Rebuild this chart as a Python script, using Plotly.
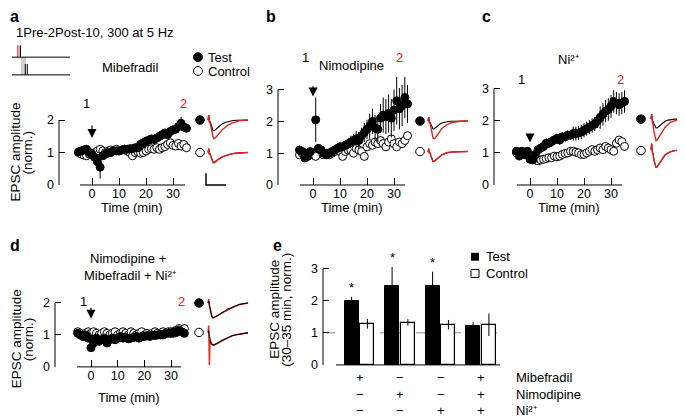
import plotly.graph_objects as go

# ---------------- data ----------------
T_MIN = list(range(-5, 36))

A_TEST = [1.02, 1.05, 1.08, 1.10, 1.00, 0.95, 0.85, 0.72, 0.55, 0.90,
          0.95, 1.00, 1.00, 1.05, 1.05, 1.05, 1.08, 1.10, 1.10, 1.12,
          1.12, 1.15, 1.15, 1.25, 1.30, 1.35, 1.38, 1.42, 1.40, 1.45,
          1.50, 1.55, 1.60, 1.55, 1.65, 1.70, 1.72, 1.80, 1.90, 1.78, 1.75]
A_TEST_ERR = [0.06, 0.06, 0.06, 0.06, 0.06, 0.08, 0.10, 0.15, 0.35, 0.10,
              0.07, 0.07, 0.07, 0.07, 0.07, 0.07, 0.07, 0.07, 0.07, 0.07,
              0.07, 0.07, 0.07, 0.07, 0.07, 0.08, 0.08, 0.08, 0.08, 0.08,
              0.08, 0.08, 0.10, 0.10, 0.10, 0.10, 0.12, 0.12, 0.20, 0.15, 0.10]
A_CTRL = [1.00, 0.95, 0.92, 0.90, 0.95, 0.92, 1.00, 1.05, 1.10, 1.05,
          1.00, 1.05, 1.08, 1.05, 1.10, 1.05, 1.08, 1.10, 1.05, 1.00,
          0.90, 1.00, 1.02, 0.98, 1.00, 1.05, 1.10, 1.12, 1.10, 1.15,
          1.10, 1.15, 1.18, 1.25, 1.30, 1.22, 1.20, 1.28, 1.20, 1.25, 1.15]
A_CTRL_ERR = [0.06] * 20 + [0.10] + [0.06] * 20

B_TEST = [1.10, 1.05, 0.85, 0.90, 1.05, None, 2.05, 1.15, 1.10, 1.00,
          0.95, 1.00, 1.05, 1.10, 1.15, 1.20, 1.20, 1.25, 1.30, 1.35,
          1.40, 1.45, 1.40, 1.55, 1.65, 1.75, 1.85, 2.00, 1.80, 1.75,
          2.10, 2.20, 2.15, 2.25, 2.10, 2.35, 2.65, 2.40, 2.50, 2.75, 2.55]
B_TEST_ERR = [0.10, 0.10, 0.10, 0.10, 0.10, 0.00, 0.70, 0.12, 0.12, 0.12,
              0.12, 0.12, 0.12, 0.12, 0.15, 0.15, 0.15, 0.15, 0.15, 0.20,
              0.20, 0.25, 0.25, 0.25, 0.30, 0.30, 0.40, 0.40, 0.40, 0.40,
              0.45, 0.55, 0.55, 0.60, 0.60, 0.65, 0.75, 0.65, 0.65, 0.65, 0.60]
B_CTRL = [0.95, 1.00, 0.90, 1.00, 0.95, None, 0.90, 1.15, 1.10, 0.95,
          1.00, 0.95, 1.00, 1.05, 1.10, 1.05, 0.90, 1.05, 1.10, 1.10,
          1.00, 1.15, 1.10, 1.05, 0.90, 1.20, 1.30, 1.25, 1.35, 1.30,
          1.40, 1.30, 1.20, 1.35, 1.45, 1.30, 1.20, 1.35, 1.30, 1.40, 1.55]
B_CTRL_ERR = [0.08] * 25 + [0.12] * 16

C_TEST = [1.05, 0.90, 1.05, 0.95, 1.05, 0.80, 0.78, 0.95, 1.10, 1.15,
          1.20, 1.30, 1.30, 1.35, 1.40, 1.45, 1.40, 1.50, 1.50, 1.55,
          1.55, 1.60, 1.60, 1.62, 1.65, 1.70, 1.75, 1.80, 1.85, 1.90,
          2.00, 2.10, 2.20, 2.30, 2.35, 2.45, 2.60, 2.55, 2.50, 2.55, 2.60]
C_TEST_ERR = [0.08] * 11 + [0.15] * 10 + [0.22] * 10 + [0.35] * 10
C_CTRL = [1.00, 0.95, 1.00, 0.95, 1.00, None, 0.80, 0.78, 0.75, 0.78,
          0.80, 0.82, 0.85, 0.85, 0.90, 0.88, 0.90, 0.95, 0.98, 1.00,
          1.05, 1.05, 1.02, 1.00, 0.95, 0.95, 1.00, 1.05, 1.10, 1.05,
          1.10, 1.15, 1.10, 1.20, 1.15, 1.10, 1.05, 1.30, 1.40, 1.35, 1.20]
C_CTRL_ERR = [0.07] * 25 + [0.12] * 16

D_TEST = [1.05, 1.00, 0.95, 1.00, 0.90, 0.60, 0.75, 0.90, 0.80, 0.85,
          0.90, 0.75, 0.85, 0.90, 0.85, 0.90, 0.95, 0.90, 0.92, 0.88,
          0.90, 0.92, 0.95, 0.90, 0.95, 0.95, 0.98, 0.95, 1.00, 0.98,
          1.00, 1.02, 1.00, 1.05, 1.05, 1.05, 1.10, 1.08, 1.15, 1.10, 1.05]
D_TEST_ERR = [0.06] * 30 + [0.10] * 11
D_CTRL = [1.10, 1.05, 1.00, 1.05, 1.10, 1.05, 1.10, 1.05, 1.00, 1.05,
          1.10, 1.05, 1.00, 1.05, 1.10, 1.00, 1.05, 1.10, 1.05, 1.00,
          1.10, 1.05, 1.00, 1.05, 1.10, 1.00, 1.05, 1.00, 1.05, 1.10,
          1.05, 1.00, 1.10, 1.05, 1.10, 1.10, 1.05, 1.15, 1.20, 1.15, 1.20]
D_CTRL_ERR = [0.06] * 30 + [0.12] * 11

# example EPSC traces (time in ms, current in arbitrary units)
TR_T = [0, 0.7, 1.4, 2, 3, 4, 5, 6, 7, 8, 10, 12, 14, 17, 20, 24, 28, 32, 36, 40]
TR_A_TOP_1 = [0, 0.5, -0.2, -0.1, -0.4, -0.8, -1.05, -1.1, -1.05, -0.95, -0.75, -0.55, -0.4, -0.25, -0.15, -0.06, -0.02, 0, 0, 0]
TR_A_TOP_2 = [0, 0.5, -0.2, -0.2, -0.7, -1.3, -1.7, -1.9, -1.85, -1.75, -1.5, -1.25, -1.0, -0.75, -0.5, -0.3, -0.15, -0.05, 0, 0]
TR_A_BOT_1 = [0, 0.4, -0.2, -0.1, -0.4, -0.75, -0.95, -1.0, -0.95, -0.85, -0.7, -0.55, -0.45, -0.32, -0.22, -0.12, -0.06, -0.02, 0, 0]
TR_A_BOT_2 = [0, 0.4, -0.2, -0.1, -0.45, -0.8, -1.0, -1.05, -1.0, -0.9, -0.72, -0.58, -0.46, -0.33, -0.22, -0.12, -0.06, -0.02, 0, 0]
TR_B_TOP_1 = [0, 0.4, -0.2, -0.1, -0.35, -0.65, -0.8, -0.8, -0.72, -0.6, -0.42, -0.3, -0.2, -0.1, -0.05, -0.02, 0, 0, 0, 0]
TR_B_TOP_2 = [0, 0.4, -0.2, -0.2, -0.7, -1.3, -1.7, -1.8, -1.75, -1.6, -1.3, -1.0, -0.75, -0.5, -0.3, -0.15, -0.07, -0.02, 0, 0]
TR_B_BOT_1 = [0, 0.3, -0.2, -0.1, -0.45, -0.85, -1.0, -1.0, -0.92, -0.8, -0.6, -0.45, -0.32, -0.2, -0.1, -0.05, -0.02, 0, 0, 0]
TR_B_BOT_2 = [0, 0.3, -0.2, -0.1, -0.45, -0.85, -1.0, -1.02, -0.94, -0.82, -0.62, -0.46, -0.33, -0.2, -0.1, -0.05, -0.02, 0, 0, 0]
TR_C_TOP_1 = [0, 0.5, -0.3, -0.2, -0.5, -0.8, -0.9, -0.9, -0.82, -0.72, -0.5, -0.35, -0.22, -0.1, -0.04, 0, 0, 0, 0, 0]
TR_C_TOP_2 = [0, 0.5, -0.3, -0.5, -1.3, -1.9, -2.2, -2.15, -2.0, -1.85, -1.5, -1.15, -0.85, -0.55, -0.3, -0.15, -0.06, 0, 0, 0]
TR_C_BOT_1 = [0, 0.6, -0.3, -0.4, -1.1, -1.6, -1.8, -1.75, -1.6, -1.4, -1.05, -0.75, -0.55, -0.35, -0.2, -0.1, -0.05, -0.02, 0, 0]
TR_C_BOT_2 = [0, 0.6, -0.3, -0.4, -1.1, -1.65, -1.8, -1.78, -1.62, -1.42, -1.07, -0.77, -0.56, -0.36, -0.2, -0.1, -0.05, -0.02, 0, 0]
TR_D_TOP_1 = [0, 0.2, -0.2, -0.5, -1.1, -1.4, -1.5, -1.48, -1.42, -1.37, -1.25, -1.1, -0.95, -0.8, -0.6, -0.42, -0.28, -0.14, -0.05, 0]
TR_D_TOP_2 = [0, 0.4, -0.3, -0.6, -1.2, -1.45, -1.55, -1.5, -1.45, -1.4, -1.3, -1.15, -1.0, -0.85, -0.65, -0.45, -0.3, -0.15, -0.05, 0]
TR_D_BOT_1 = [0, 0.2, -0.4, -0.7, -1.05, -1.2, -1.25, -1.25, -1.2, -1.15, -1.05, -0.9, -0.78, -0.63, -0.48, -0.34, -0.24, -0.14, -0.09, -0.04]
TR_D_BOT_2 = [0, 0.7, -3.3, -0.8, -1.1, -1.25, -1.3, -1.3, -1.25, -1.2, -1.1, -0.95, -0.8, -0.65, -0.5, -0.35, -0.25, -0.15, -0.1, -0.05]
SCALE_T = [-2, -2, 18]
SCALE_Y = [-2.1, -3.3, -3.3]

# panel e summary
E_GROUPS = [0, 1, 2, 3]
E_TEST = [2.00, 2.45, 2.45, 1.20]
E_TEST_ERR = [0.12, 0.60, 0.45, 0.13]
E_CTRL = [1.28, 1.32, 1.25, 1.25]
E_CTRL_ERR = [0.15, 0.10, 0.15, 0.35]
E_SIG = ["*", "*", "*", ""]
E_MIB = ["+", "−", "−", "+"]
E_NIMO = ["−", "+", "−", "+"]
E_NI = ["−", "−", "+", "+"]
E_ROW_LABELS = ["Mibefradil", "Nimodipine", "Ni²⁺"]

# ---------------- layout helpers ----------------
W, H = 685, 418
FONT = "Liberation Sans, Arial, Helvetica, sans-serif"
RED = "#e8201a"


def PX(x):
    return x / W


def PY(y):
    return 1 - y / H


fig = go.Figure()
layout = {}
shapes = []
annotations = []


def text(t, x, y, size=13, color="black", xanchor="center", bold=False, angle=0, yanchor="middle"):
    if bold:
        t = "<b>" + t + "</b>"
    annotations.append(dict(text=t, x=PX(x), y=PY(y), xref="paper", yref="paper", showarrow=False,
                            xanchor=xanchor, yanchor=yanchor, textangle=angle, borderpad=0,
                            font=dict(family=FONT, size=size, color=color)))


def line(x0, y0, x1, y1, color="black", width=1, dash=None):
    shapes.append(dict(type="line", xref="paper", yref="paper", x0=PX(x0), y0=PY(y0), x1=PX(x1), y1=PY(y1),
                       line=dict(color=color, width=width, dash=dash)))


def rect(x0, y0, x1, y1, fill, lc=None, lw=0):
    shapes.append(dict(type="rect", xref="paper", yref="paper", x0=PX(x0), y0=PY(y1), x1=PX(x1), y1=PY(y0),
                       fillcolor=fill, line=dict(color=lc or fill, width=lw)))


def circ(cx, cy, r, filled):
    shapes.append(dict(type="circle", xref="paper", yref="paper", x0=PX(cx - r), x1=PX(cx + r),
                       y0=PY(cy + r), y1=PY(cy - r), fillcolor="black" if filled else "white",
                       line=dict(color="black", width=1)))


tickfont = dict(family=FONT, size=12.5, color="black")

# main time-course panels: (axis id, y-axis px, x0 px, px/min, right px, y0 px, px/unit, top px, yticks, x-line)
MAIN = [
    ("", 51, 84, 2.7, 185, 180, 33.0, 100, [0, 1, 2], (72, 177), T_MIN, A_TEST, A_TEST_ERR, A_CTRL, A_CTRL_ERR),
    ("2", 270, 305, 2.7, 405, 180, 32.33, 55, [0, 1, 2, 3], (292, 397), T_MIN, B_TEST, B_TEST_ERR, B_CTRL, B_CTRL_ERR),
    ("3", 486, 522, 2.7, 630, 180, 32.67, 65, [0, 1, 2, 3], (509, 614), T_MIN, C_TEST, C_TEST_ERR, C_CTRL, C_CTRL_ERR),
    ("4", 47, 83, 2.667, 180, 365, 32.5, 285, [0, 1, 2], (69, 173), T_MIN, D_TEST, D_TEST_ERR, D_CTRL, D_CTRL_ERR),
]

for (aid, yx, x0p, xs, xr, y0p, ys, ytop, yt, xl, tt, te, tee, ce, cee) in MAIN:
    layout["xaxis" + aid] = dict(domain=[PX(yx), PX(xr)], range=[(yx - x0p) / xs, (xr - x0p) / xs],
                                 anchor="y" + aid, showgrid=False, zeroline=False, showline=False,
                                 ticks="inside", ticklen=7, tickwidth=1, tickcolor="black",
                                 tickvals=[0, 10, 20, 30], tickfont=tickfont, ticklabelstandoff=0)
    layout["yaxis" + aid] = dict(domain=[PY(y0p), PY(ytop)], range=[0, (y0p - ytop) / ys],
                                 anchor="x" + aid, showgrid=False, zeroline=False, showline=False,
                                 ticks="inside", ticklen=6, tickwidth=1, tickcolor="black",
                                 tickvals=yt, tickfont=tickfont, ticklabelstandoff=4)
    line(yx, y0p, yx, y0p - ys * yt[-1])
    line(xl[0], y0p, xl[1], y0p)
    xa, ya = "x" + aid, "y" + aid
    fig.add_trace(go.Scatter(x=tt, y=ce, mode="markers", xaxis=xa, yaxis=ya, cliponaxis=False,
                             marker=dict(size=8, color="white", line=dict(color="black", width=1)),
                             error_y=dict(type="data", array=cee, thickness=1, width=0, color="black"),
                             showlegend=False))
    fig.add_trace(go.Scatter(x=tt, y=te, mode="markers", xaxis=xa, yaxis=ya, cliponaxis=False,
                             marker=dict(size=8, color="black", line=dict(color="black", width=1)),
                             error_y=dict(type="data", array=tee, thickness=1, width=0, color="black"),
                             showlegend=False))

# arrows at induction (x = 0)
for aid, yhead, ytail in [("", 1.45, 1.88), ("2", 2.78, 3.15), ("3", 1.32, 1.62), ("4", 1.51, 1.9)]:
    annotations.append(dict(x=0, y=yhead, ax=0, ay=ytail, xref="x" + aid, yref="y" + aid,
                            axref="x" + aid, ayref="y" + aid, text="", showarrow=True,
                            arrowhead=2, arrowsize=1.5, arrowwidth=1.2, arrowcolor="black"))

# ---------------- panel e (bars) ----------------
E_OFF = 0.195
E_W = 0.345
e_x0 = 351.5
e_xs = 40.5
layout["xaxis5"] = dict(domain=[PX(315), PX(495)], range=[(315 - e_x0) / e_xs, (495 - e_x0) / e_xs],
                        anchor="y5", showgrid=False, zeroline=False, showline=False, ticks="",
                        showticklabels=False)
layout["yaxis5"] = dict(domain=[PY(363), PY(240)], range=[0, (363 - 240) / 32.67], anchor="x5",
                        showgrid=False, zeroline=False, showline=False, ticks="inside", ticklen=6,
                        tickcolor="black", tickvals=[0, 1, 2, 3], tickfont=tickfont, ticklabelstandoff=4)
line(315, 363, 315, 363 - 3 * 32.67)
line(328, 363, 492, 363)
shapes.append(dict(type="line", xref="paper", yref="y5", x0=PX(318), x1=PX(492), y0=1, y1=1,
                   line=dict(color="#8a8a8a", width=1, dash="dash"), layer="below"))
fig.add_trace(go.Bar(x=[g - E_OFF for g in E_GROUPS], y=E_TEST, width=E_W, xaxis="x5", yaxis="y5",
                     marker=dict(color="black", line=dict(color="black", width=1)),
                     error_y=dict(type="data", array=E_TEST_ERR, thickness=1, width=0, color="black"),
                     showlegend=False))
fig.add_trace(go.Bar(x=[g + E_OFF for g in E_GROUPS], y=E_CTRL, width=E_W, xaxis="x5", yaxis="y5",
                     marker=dict(color="white", line=dict(color="black", width=1.2)),
                     error_y=dict(type="data", array=E_CTRL_ERR, thickness=1, width=0, color="black"),
                     showlegend=False))
for g, v, e, s in zip(E_GROUPS, E_TEST, E_TEST_ERR, E_SIG):
    if s:
        annotations.append(dict(x=g - E_OFF, y=v + e + 0.28, xref="x5", yref="y5", text=s, showarrow=False,
                                font=dict(family=FONT, size=13, color="black"), yanchor="middle"))
ROWS_Y = [376, 393, 409]
for row_vals, ry in zip([E_MIB, E_NIMO, E_NI], ROWS_Y):
    for g, s in zip(E_GROUPS, row_vals):
        annotations.append(dict(x=g, y=PY(ry), xref="x5", yref="paper", text=s, showarrow=False,
                                borderpad=0, yanchor="middle", font=dict(family=FONT, size=13, color="black")))
for lab, ry in zip(E_ROW_LABELS, ROWS_Y):
    text(lab, 507, ry, xanchor="left")

# ---------------- example traces (insets) ----------------
INSETS = [
    (200, 114, TR_A_TOP_1, TR_A_TOP_2, False),
    (200, 147, TR_A_BOT_1, TR_A_BOT_2, False),
    (420, 115, TR_B_TOP_1, TR_B_TOP_2, False),
    (420, 146, TR_B_BOT_1, TR_B_BOT_2, False),
    (643, 113, TR_C_TOP_1, TR_C_TOP_2, False),
    (643, 144, TR_C_BOT_1, TR_C_BOT_2, False),
    (200, 300, TR_D_TOP_1, TR_D_TOP_2, True),
    (200, 330, TR_D_BOT_1, TR_D_BOT_2, True),
]
n = 6
for i, (x0, base, tr1, tr2, black_on_top) in enumerate(INSETS):
    xr = min(x0 + 44, W - 1)
    xa, ya = "x%d" % n, "y%d" % n
    layout["xaxis%d" % n] = dict(domain=[PX(x0 - 12), PX(xr)], range=[-12, xr - x0], anchor=ya, visible=False)
    layout["yaxis%d" % n] = dict(domain=[PY(base + 35), PY(base - 10)], range=[-3.5, 1.0], anchor=xa, visible=False)
    t1 = go.Scatter(x=TR_T, y=tr1, mode="lines", xaxis=xa, yaxis=ya, line=dict(color="black", width=1.1),
                    showlegend=False, cliponaxis=False)
    t2 = go.Scatter(x=TR_T, y=tr2, mode="lines", xaxis=xa, yaxis=ya, line=dict(color=RED, width=1.4),
                    showlegend=False, cliponaxis=False)
    if black_on_top:
        fig.add_trace(t2)
        fig.add_trace(t1)
    else:
        fig.add_trace(t1)
        fig.add_trace(t2)
    if i == 1:
        fig.add_trace(go.Scatter(x=SCALE_T, y=SCALE_Y, mode="lines", xaxis=xa, yaxis=ya,
                                 line=dict(color="black", width=1.5), showlegend=False, cliponaxis=False))
    n += 1

# inset symbols
for cx, cy, f in [(192, 114, True), (192, 147, False), (412, 115, True), (412, 146, False),
                  (633, 113, True), (633, 145, False), (191, 300, True), (191, 330, False)]:
    circ(cx, cy, 4.3, f)

# ---------------- panel a header / protocol ----------------
text("a", 1, 9, size=16, bold=True, xanchor="left")
text("1Pre-2Post-10, 300 at 5 Hz", 7, 25, size=13, xanchor="left")
rect(9, 38, 13, 50, "#f2a3a3")
line(9.5, 38, 9.5, 50, color="#e06060", width=1)
rect(13, 50, 18, 68, "#cfcfcf")
line(4, 50, 62, 50)
line(4, 68, 62, 68)
line(12.5, 38, 12.5, 50, width=1)
line(17.3, 57, 17.3, 68, width=1)
line(19.3, 57, 19.3, 68, width=1)
text("Mibefradil", 122, 61)
circ(190, 50, 4.5, True)
circ(190, 64, 4.5, False)
text("Test", 199, 50, xanchor="left")
text("Control", 199, 65, xanchor="left")
text("1", 78, 97)
text("2", 175, 97, color=RED)

# panel b
text("b", 257, 9, size=16, bold=True, xanchor="left")
text("Nimodipine", 343, 58)
text("1", 297, 50)
text("2", 392, 50, color=RED)

# panel c
text("c", 473, 9, size=16, bold=True, xanchor="left")
text("Ni²⁺", 560, 52)
text("1", 513, 73)
text("2", 612, 73, color=RED)

# panel d
text("d", 1, 242, size=16, bold=True, xanchor="left")
text("Nimodipine +", 120, 255)
text("Mibefradil + Ni²⁺", 122, 272)
text("1", 75, 298)
text("2", 173, 298, color=RED)

# panel e
text("e", 264, 242, size=16, bold=True, xanchor="left")
rect(463, 249, 471, 257, "black")
rect(463, 266, 471, 274, "white", lc="black", lw=1)
text("Test", 477, 253, xanchor="left")
text("Control", 477, 270, xanchor="left")

# axis titles
for cx, cy in [(124, 203), (344, 203), (561, 203), (121, 396)]:
    text("Time (min)", cx, cy, size=13)
text("EPSC amplitude", 8, 147, size=13.5, angle=-90)
text("(norm.)", 20, 147, size=13.5, angle=-90)
text("EPSC amplitude", 8, 337, size=13.5, angle=-90)
text("(norm.)", 20, 337, size=13.5, angle=-90)
text("EPSC amplitude", 267, 307, size=13.5, angle=-90)
text("(30–35 min, norm.)", 279, 307, size=13.5, angle=-90)

layout.update(dict(width=W, height=H, margin=dict(l=0, r=0, t=0, b=0), paper_bgcolor="white",
                   plot_bgcolor="rgba(0,0,0,0)", shapes=shapes, annotations=annotations,
                   font=dict(family=FONT, size=12, color="black"), bargap=0, barmode="overlay",
                   showlegend=False))
fig.update_layout(**layout)
fig.write_html("out.html")
